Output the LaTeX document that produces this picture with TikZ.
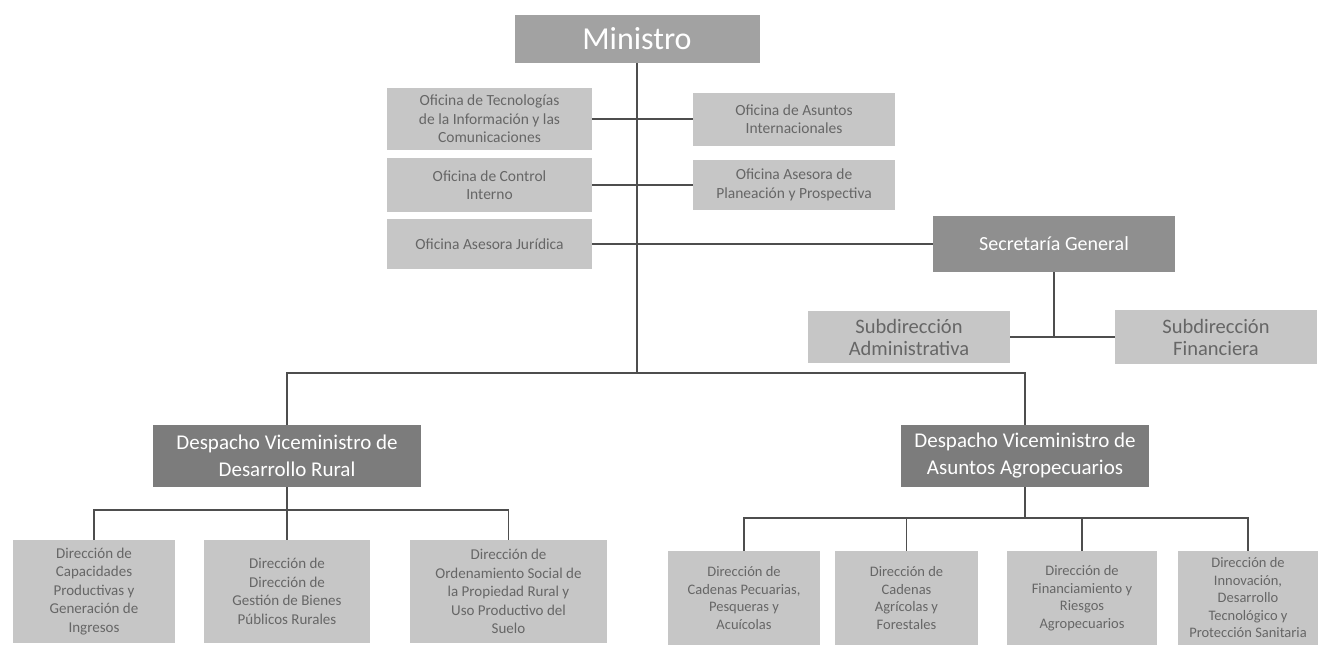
\documentclass[tikz,border=0pt]{standalone}
\usepackage{fontspec}
\setmainfont{Carlito}
\usepackage{tikz}
\usetikzlibrary{positioning}

\definecolor{boxlight}{HTML}{C6C6C6}
\definecolor{boxmini}{HTML}{A2A2A2}
\definecolor{boxsec}{HTML}{8F8F8F}
\definecolor{boxvice}{HTML}{7C7C7C}
\definecolor{txtgray}{HTML}{666666}
\definecolor{linegray}{HTML}{4E4E4E}

\begin{document}
\begin{tikzpicture}[x=1pt,y=-1pt,
    box/.style={fill=boxlight,text=txtgray,align=center,inner sep=1pt},
    sz/.style 2 args={minimum width=#1pt,minimum height=#2pt},
    office/.style={box,font=\fontsize{15.5}{18.5}\selectfont},
    subdir/.style={box,font=\fontsize{20.5}{22}\selectfont},
    dirleft/.style={box,font=\fontsize{15}{18.5}\selectfont},
    dirright/.style={box,font=\fontsize{14.5}{17.5}\selectfont},
    head/.style={box,text=white},
    link/.style={draw=linegray,line width=1.6pt}
  ]
    \fill[white] (0,0) rectangle (1325,648);
    \useasboundingbox (0,0) rectangle (1325,648);

    % top level
    \node[head,fill=boxmini,sz={245}{48},font=\fontsize{32}{36}\selectfont] (mini) at (637,39) {Ministro};

    % offices around the minister
    \node[office,sz={205}{62}] (tic) at (489.5,119) {Oficina de Tecnologías\\de la Información y las\\Comunicaciones};
    \node[office,sz={202}{53}] (intl) at (794,119) {Oficina de Asuntos\\Internacionales};
    \node[office,sz={205}{54}] (ctrl) at (489.5,185) {Oficina de Control\\Interno};
    \node[office,sz={202}{50}] (plan) at (794,185) {Oficina Asesora de\\Planeación y Prospectiva};
    \node[office,sz={205}{50}] (jur) at (489.5,244) {Oficina Asesora Jurídica};

    % general secretary
    \node[head,fill=boxsec,sz={242}{56},font=\fontsize{20}{24}\selectfont] (sg) at (1054,244) {Secretaría General};
    \node[subdir,sz={202}{52}] (subadm) at (909,337) {Subdirección\\Administrativa};
    \node[subdir,sz={202}{54}] (subfin) at (1216,337) {Subdirección\\Financiera};

    % vice ministers
    \node[head,fill=boxvice,sz={268}{62},font=\fontsize{21}{27}\selectfont] (vmr) at (287,456) {Despacho Viceministro de\\Desarrollo Rural};
    \node[head,fill=boxvice,sz={248}{62},font=\fontsize{21}{27}\selectfont] (vma) at (1025,456) {Despacho Viceministro de\\Asuntos Agropecuarios};

    % directions, rural
    \node[dirleft,sz={162}{103}] (dcp) at (94,591.5) {Dirección de\\Capacidades\\Productivas y\\Generación de\\Ingresos};
    \node[dirleft,sz={166}{103}] (dgb) at (287,591.5) {Dirección de\\Dirección de\\Gestión de Bienes\\Públicos Rurales};
    \node[dirleft,sz={197}{103}] (dos) at (508.5,591.5) {Dirección de\\Ordenamiento Social de\\la Propiedad Rural y\\Uso Productivo del\\Suelo};

    % directions, agro
    \node[dirright,sz={152}{94}] (dcpp) at (744,598) {Dirección de\\Cadenas Pecuarias,\\Pesqueras y\\Acuícolas};
    \node[dirright,sz={143}{94}] (dca) at (906.5,598) {Dirección de\\Cadenas\\Agrícolas y\\Forestales};
    \node[dirright,sz={150}{94}] (dfr) at (1082,598) {Dirección de\\Financiamiento y\\Riesgos\\Agropecuarios};
    \node[dirright,sz={140}{94}] (dit) at (1248,598) {Dirección de\\Innovación,\\Desarrollo\\Tecnológico y\\Protección Sanitaria};

    \coordinate (bar) at (637,373);

    \draw[link] (mini) -- (bar);
    \draw[link] (tic) -- (intl);
    \draw[link] (ctrl) -- (plan);
    \draw[link] (jur) -- (sg);
    \draw[link] (sg) -- (sg |- subadm);
    \draw[link] (subadm) -- (subfin);
    \draw[link] (vmr.north) |- (bar) -| (vma.north);
    \foreach \k in {dcp,dgb,dos}
      \draw[link] (vmr.south) -- ++(0,23) -| (\k.north);
    \foreach \k in {dcpp,dca,dfr,dit}
      \draw[link] (vma.south) -- ++(0,31) -| (\k.north);
  \end{tikzpicture}
\end{document}
